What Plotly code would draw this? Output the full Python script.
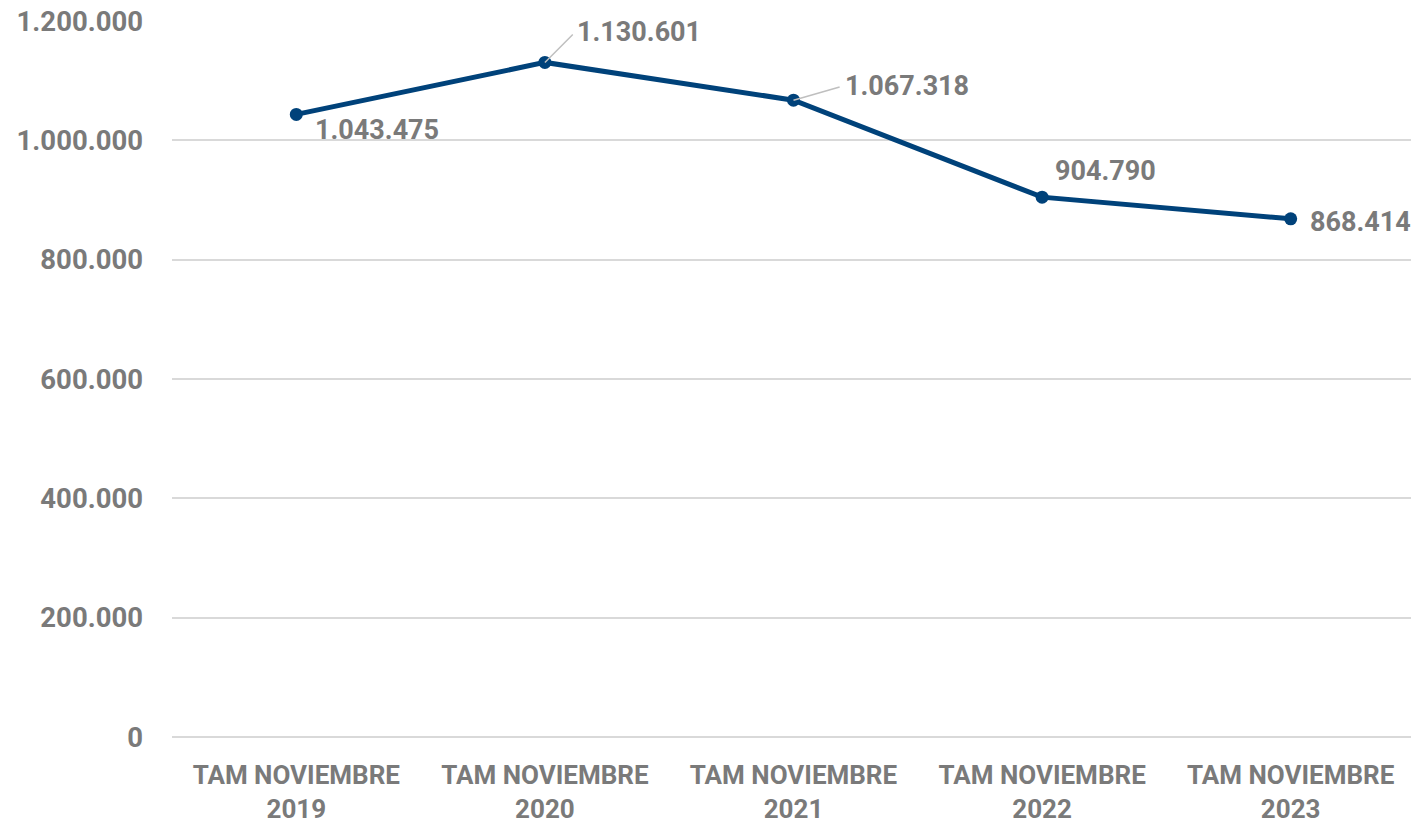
import plotly.graph_objects as go

categories = ["TAM NOVIEMBRE<br>2019", "TAM NOVIEMBRE<br>2020", "TAM NOVIEMBRE<br>2021",
              "TAM NOVIEMBRE<br>2022", "TAM NOVIEMBRE<br>2023"]
values = [1043475, 1130601, 1067318, 904790, 868414]
value_labels = ["1.043.475", "1.130.601", "1.067.318", "904.790", "868.414"]
y_ticks = [0, 200000, 400000, 600000, 800000, 1000000, 1200000]

FONT = "Roboto"
GRAY = "#7a7a7a"
LINE = "#00427a"

fig = go.Figure()
fig.add_trace(go.Scatter(
    x=list(range(len(categories))), y=values, mode="lines+markers",
    line=dict(color=LINE, width=5),
    marker=dict(color=LINE, size=13),
    hoverinfo="skip", showlegend=False,
))

placements = [
    dict(ax=0, ay=0, xshift=81, yshift=-16, arrow=False),
    dict(ax=30, ay=-30, xshift=0, yshift=0, arrow=True),
    dict(ax=49, ay=-14, xshift=0, yshift=0, arrow=True),
    dict(ax=0, ay=0, xshift=63, yshift=26, arrow=False),
    dict(ax=0, ay=0, xshift=70, yshift=-3, arrow=False),
]
for i, (v, lab, p) in enumerate(zip(values, value_labels, placements)):
    if p["arrow"]:
        fig.add_annotation(
            x=i, y=v, text=lab, showarrow=True, arrowhead=0, arrowwidth=1.5,
            arrowcolor="#bfbfbf", ax=p["ax"], ay=p["ay"], xanchor="left",
            yanchor="middle", standoff=0, startstandoff=3,
            font=dict(family=FONT, size=27, color=GRAY, weight="bold"),
        )
    else:
        fig.add_annotation(
            x=i, y=v, text=lab, showarrow=False, xshift=p["xshift"], yshift=p["yshift"],
            font=dict(family=FONT, size=27, color=GRAY, weight="bold"),
        )

fig.update_layout(
    width=1411, height=817,
    margin=dict(l=164, r=4, t=13, b=88, autoexpand=False),
    plot_bgcolor="white", paper_bgcolor="white",
    separators=",.",
    font=dict(family=FONT, color=GRAY),
)
fig.update_xaxes(
    tickmode="array", tickvals=list(range(len(categories))), ticktext=categories,
    range=[-0.5, 4.5], showgrid=False, zeroline=False, showline=False,
    tickfont=dict(family=FONT, size=26, color=GRAY, weight="bold"),
    ticks="", ticklabelstandoff=20, automargin=False,
)
fig.update_yaxes(
    range=[0, 1200000], tickmode="array", tickvals=y_ticks, tickformat=",d",
    showgrid=True, gridcolor="#d9d9d9", gridwidth=1.5, zeroline=True,
    zerolinecolor="#d9d9d9", zerolinewidth=1.5, showline=False, ticks="",
    tickfont=dict(family=FONT, size=27.5, color=GRAY, weight="bold"),
    ticklabelstandoff=28, ticklabeloverflow="allow", automargin=False,
)

fig.write_html("out.html")
